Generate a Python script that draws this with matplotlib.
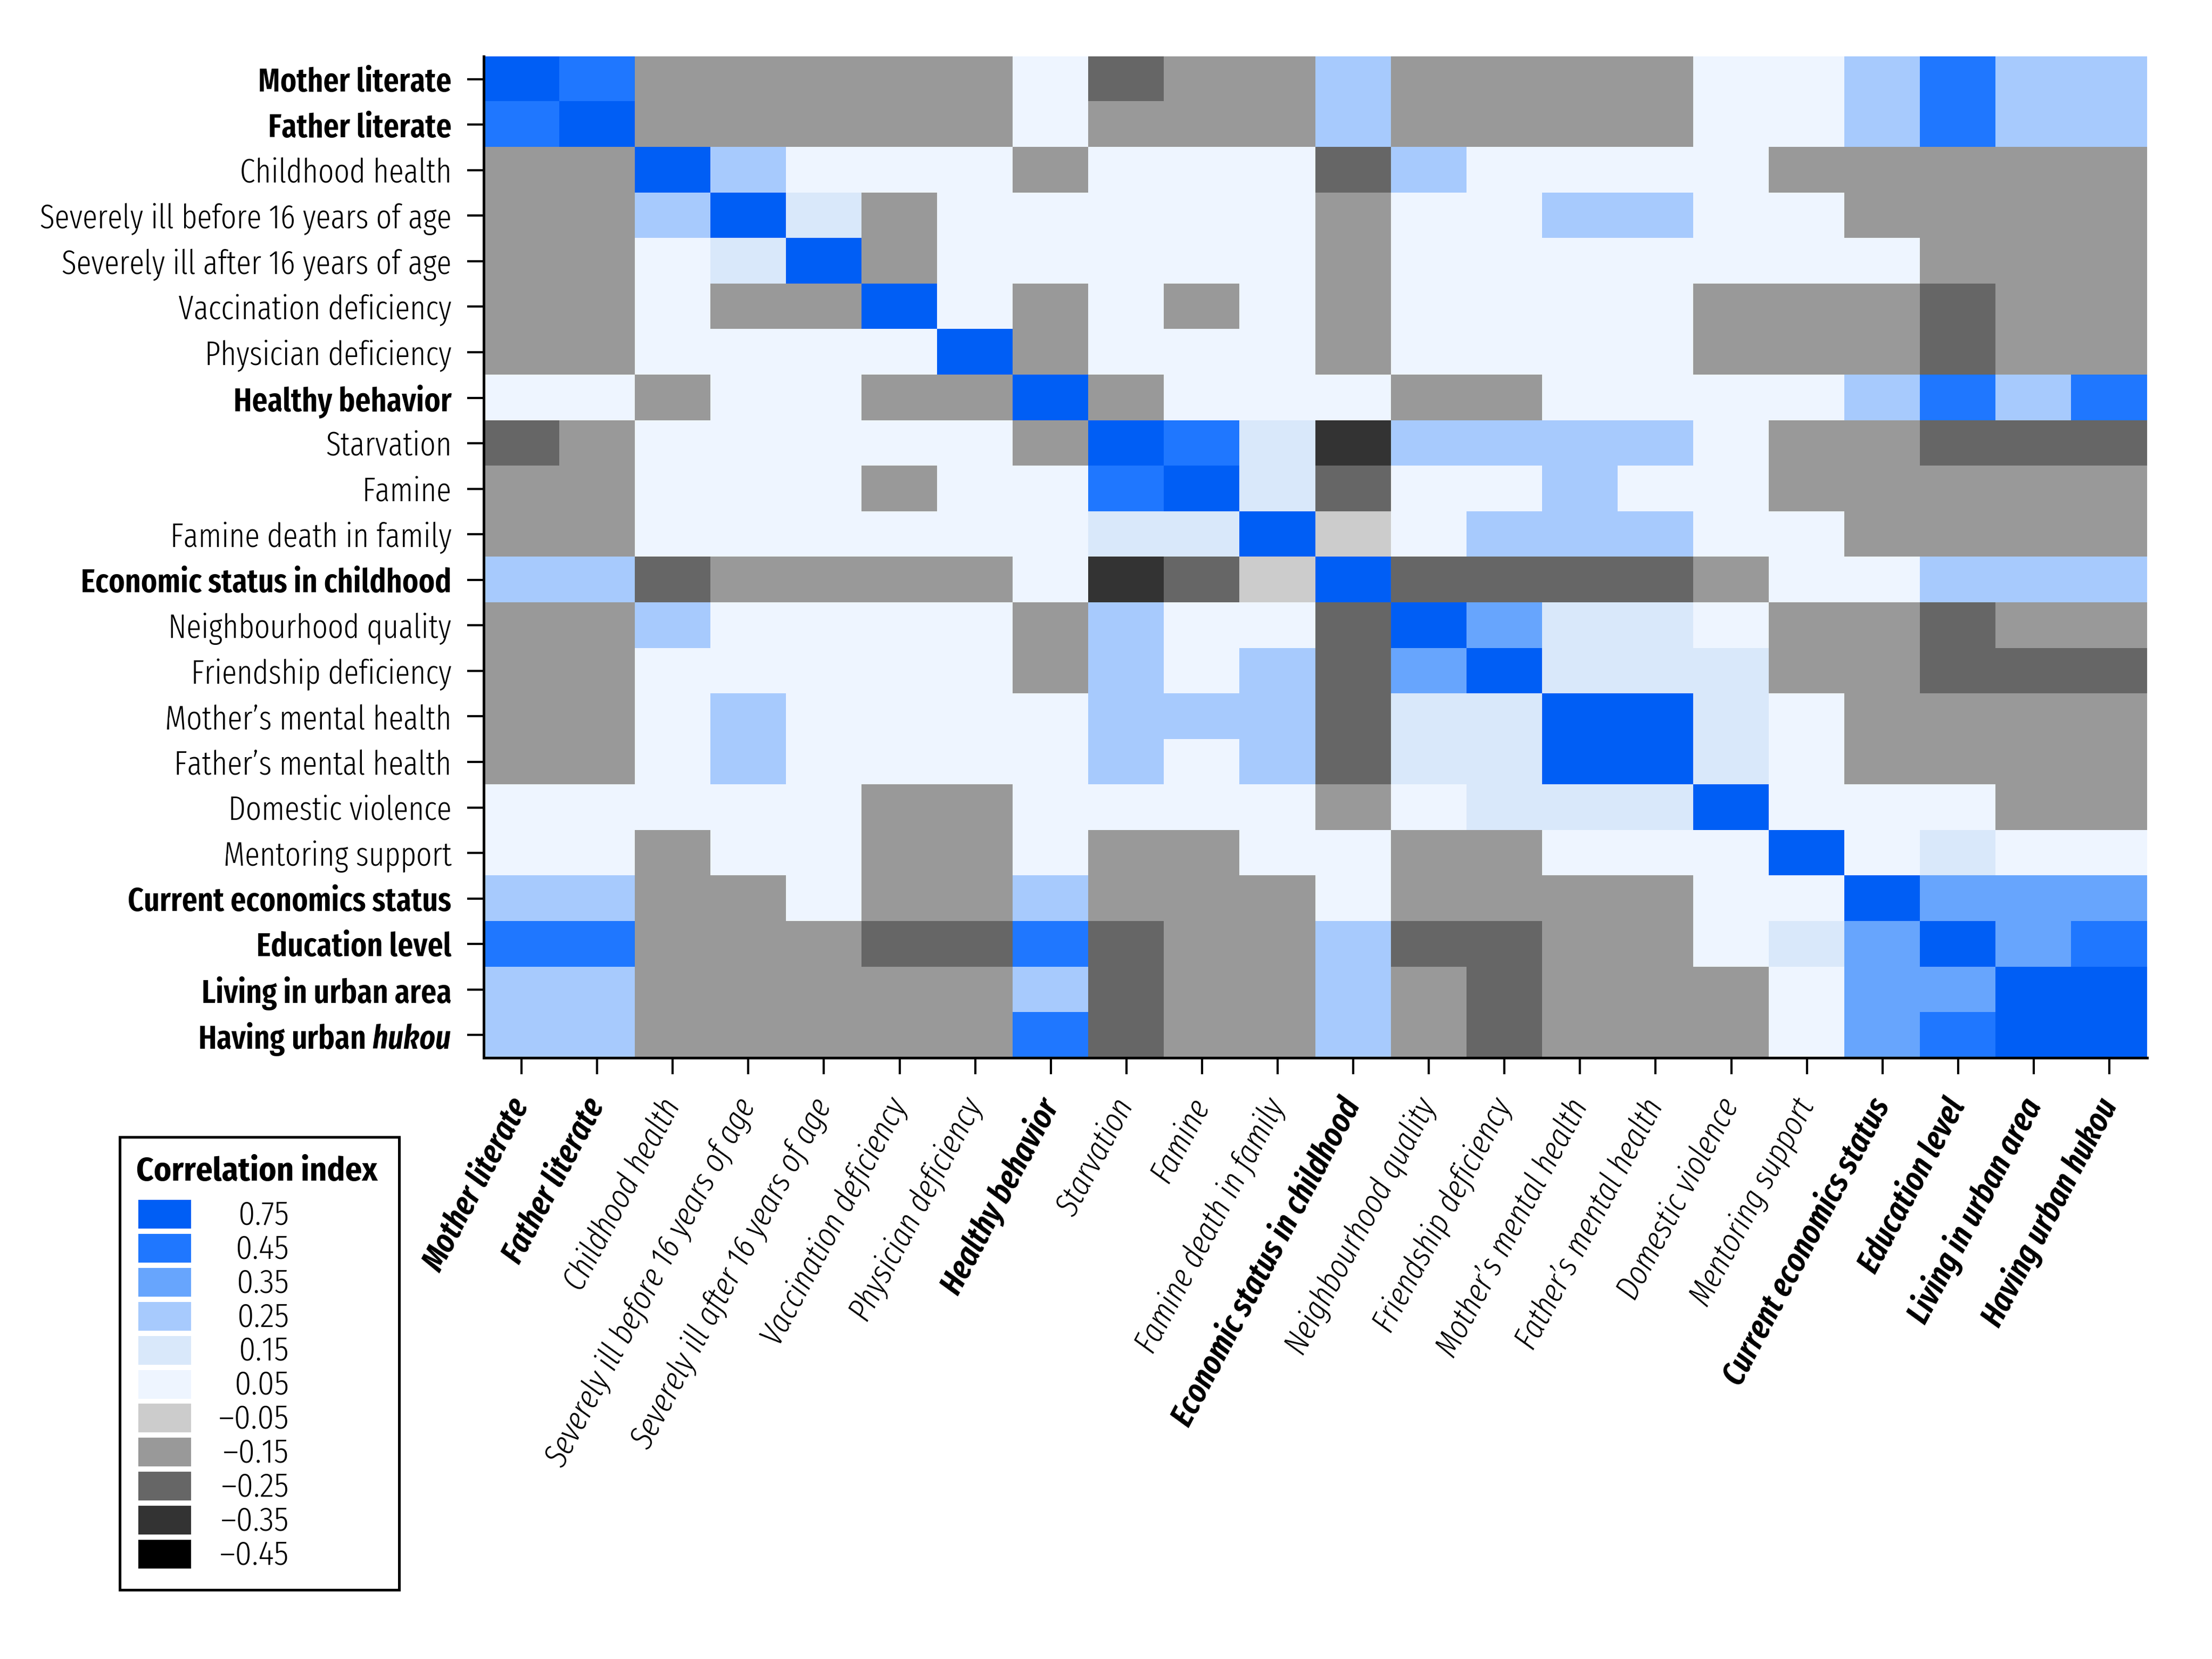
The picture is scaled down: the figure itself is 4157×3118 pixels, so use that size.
import numpy as np
import matplotlib
matplotlib.use('Agg')
import matplotlib.pyplot as plt
from matplotlib.colors import ListedColormap, BoundaryNorm

plt.rcParams['font.family'] = ['Fira Sans Extra Condensed', 'DejaVu Sans']
plt.rcParams['mathtext.fontset'] = 'custom'
plt.rcParams['mathtext.it'] = 'Fira Sans Extra Condensed:italic:semibold'

# variables (same order for rows and columns)
labels = ['Mother literate', 'Father literate', 'Childhood health',
          'Severely ill before 16 years of age', 'Severely ill after 16 years of age',
          'Vaccination deficiency', 'Physician deficiency', 'Healthy behavior',
          'Starvation', 'Famine', 'Famine death in family', 'Economic status in childhood',
          'Neighbourhood quality', 'Friendship deficiency', 'Mother\u2019s mental health',
          'Father\u2019s mental health', 'Domestic violence', 'Mentoring support',
          'Current economics status', 'Education level', 'Living in urban area',
          'Having urban hukou']
bold_labels = [0, 1, 7, 11, 18, 19, 20, 21]

# correlation class of each cell (legend value)
corr = [
    [0.75, 0.45, -0.15, -0.15, -0.15, -0.15, -0.15, 0.05, -0.25, -0.15, -0.15, 0.25, -0.15, -0.15, -0.15, -0.15, 0.05, 0.05, 0.25, 0.45, 0.25, 0.25],
    [0.45, 0.75, -0.15, -0.15, -0.15, -0.15, -0.15, 0.05, -0.15, -0.15, -0.15, 0.25, -0.15, -0.15, -0.15, -0.15, 0.05, 0.05, 0.25, 0.45, 0.25, 0.25],
    [-0.15, -0.15, 0.75, 0.25, 0.05, 0.05, 0.05, -0.15, 0.05, 0.05, 0.05, -0.25, 0.25, 0.05, 0.05, 0.05, 0.05, -0.15, -0.15, -0.15, -0.15, -0.15],
    [-0.15, -0.15, 0.25, 0.75, 0.15, -0.15, 0.05, 0.05, 0.05, 0.05, 0.05, -0.15, 0.05, 0.05, 0.25, 0.25, 0.05, 0.05, -0.15, -0.15, -0.15, -0.15],
    [-0.15, -0.15, 0.05, 0.15, 0.75, -0.15, 0.05, 0.05, 0.05, 0.05, 0.05, -0.15, 0.05, 0.05, 0.05, 0.05, 0.05, 0.05, 0.05, -0.15, -0.15, -0.15],
    [-0.15, -0.15, 0.05, -0.15, -0.15, 0.75, 0.05, -0.15, 0.05, -0.15, 0.05, -0.15, 0.05, 0.05, 0.05, 0.05, -0.15, -0.15, -0.15, -0.25, -0.15, -0.15],
    [-0.15, -0.15, 0.05, 0.05, 0.05, 0.05, 0.75, -0.15, 0.05, 0.05, 0.05, -0.15, 0.05, 0.05, 0.05, 0.05, -0.15, -0.15, -0.15, -0.25, -0.15, -0.15],
    [0.05, 0.05, -0.15, 0.05, 0.05, -0.15, -0.15, 0.75, -0.15, 0.05, 0.05, 0.05, -0.15, -0.15, 0.05, 0.05, 0.05, 0.05, 0.25, 0.45, 0.25, 0.45],
    [-0.25, -0.15, 0.05, 0.05, 0.05, 0.05, 0.05, -0.15, 0.75, 0.45, 0.15, -0.35, 0.25, 0.25, 0.25, 0.25, 0.05, -0.15, -0.15, -0.25, -0.25, -0.25],
    [-0.15, -0.15, 0.05, 0.05, 0.05, -0.15, 0.05, 0.05, 0.45, 0.75, 0.15, -0.25, 0.05, 0.05, 0.25, 0.05, 0.05, -0.15, -0.15, -0.15, -0.15, -0.15],
    [-0.15, -0.15, 0.05, 0.05, 0.05, 0.05, 0.05, 0.05, 0.15, 0.15, 0.75, -0.05, 0.05, 0.25, 0.25, 0.25, 0.05, 0.05, -0.15, -0.15, -0.15, -0.15],
    [0.25, 0.25, -0.25, -0.15, -0.15, -0.15, -0.15, 0.05, -0.35, -0.25, -0.05, 0.75, -0.25, -0.25, -0.25, -0.25, -0.15, 0.05, 0.05, 0.25, 0.25, 0.25],
    [-0.15, -0.15, 0.25, 0.05, 0.05, 0.05, 0.05, -0.15, 0.25, 0.05, 0.05, -0.25, 0.75, 0.35, 0.15, 0.15, 0.05, -0.15, -0.15, -0.25, -0.15, -0.15],
    [-0.15, -0.15, 0.05, 0.05, 0.05, 0.05, 0.05, -0.15, 0.25, 0.05, 0.25, -0.25, 0.35, 0.75, 0.15, 0.15, 0.15, -0.15, -0.15, -0.25, -0.25, -0.25],
    [-0.15, -0.15, 0.05, 0.25, 0.05, 0.05, 0.05, 0.05, 0.25, 0.25, 0.25, -0.25, 0.15, 0.15, 0.75, 0.75, 0.15, 0.05, -0.15, -0.15, -0.15, -0.15],
    [-0.15, -0.15, 0.05, 0.25, 0.05, 0.05, 0.05, 0.05, 0.25, 0.05, 0.25, -0.25, 0.15, 0.15, 0.75, 0.75, 0.15, 0.05, -0.15, -0.15, -0.15, -0.15],
    [0.05, 0.05, 0.05, 0.05, 0.05, -0.15, -0.15, 0.05, 0.05, 0.05, 0.05, -0.15, 0.05, 0.15, 0.15, 0.15, 0.75, 0.05, 0.05, 0.05, -0.15, -0.15],
    [0.05, 0.05, -0.15, 0.05, 0.05, -0.15, -0.15, 0.05, -0.15, -0.15, 0.05, 0.05, -0.15, -0.15, 0.05, 0.05, 0.05, 0.75, 0.05, 0.15, 0.05, 0.05],
    [0.25, 0.25, -0.15, -0.15, 0.05, -0.15, -0.15, 0.25, -0.15, -0.15, -0.15, 0.05, -0.15, -0.15, -0.15, -0.15, 0.05, 0.05, 0.75, 0.35, 0.35, 0.35],
    [0.45, 0.45, -0.15, -0.15, -0.15, -0.25, -0.25, 0.45, -0.25, -0.15, -0.15, 0.25, -0.25, -0.25, -0.15, -0.15, 0.05, 0.15, 0.35, 0.75, 0.35, 0.45],
    [0.25, 0.25, -0.15, -0.15, -0.15, -0.15, -0.15, 0.25, -0.25, -0.15, -0.15, 0.25, -0.15, -0.25, -0.15, -0.15, -0.15, 0.05, 0.35, 0.35, 0.75, 0.75],
    [0.25, 0.25, -0.15, -0.15, -0.15, -0.15, -0.15, 0.45, -0.25, -0.15, -0.15, 0.25, -0.15, -0.25, -0.15, -0.15, -0.15, 0.05, 0.35, 0.45, 0.75, 0.75],
]

# legend classes, top to bottom
levels = [0.75, 0.45, 0.35, 0.25, 0.15, 0.05, -0.05, -0.15, -0.25, -0.35, -0.45]
level_labels = ['0.75', '0.45', '0.35', '0.25', '0.15', '0.05',
                '\u20130.05', '\u20130.15', '\u20130.25', '\u20130.35', '\u20130.45']
level_colors = ['#005EF5', '#1F77FF', '#67A5FD', '#A7CAFD', '#D9E8FA', '#EEF5FF',
                '#CCCCCC', '#999999', '#666666', '#333333', '#000000']

cmap = ListedColormap(level_colors[::-1])
bounds = [-0.5, -0.4, -0.3, -0.2, -0.1, 0.0, 0.1, 0.2, 0.3, 0.4, 0.5, 1.0]
norm = BoundaryNorm(bounds, cmap.N)

fig = plt.figure(figsize=(4157 / 300, 3118 / 300), dpi=300)
ax = fig.add_axes([909 / 4157, 1 - 1988 / 3118, (4035 - 909) / 4157, (1988 - 106) / 3118])
ax.imshow(np.array(corr), cmap=cmap, norm=norm, aspect='auto', interpolation='nearest')

n = len(labels)
ylabels = list(labels)
ylabels[21] = 'Having urban $\\mathit{hukou}$'
ax.set_yticks(range(n))
ax.set_yticklabels(ylabels, fontsize=15, fontweight=300)
ax.set_xticks(range(n))
ax.set_xticklabels(labels, fontsize=15, fontweight=300, rotation=62, ha='right', va='center',
                   rotation_mode='anchor', style='italic')
for i in bold_labels:
    ax.get_yticklabels()[i].set_fontweight(600)
    ax.get_xticklabels()[i].set_fontweight(600)

ax.tick_params(axis='both', direction='out', length=7.5, width=1.0, color='black')
ax.tick_params(axis='y', pad=7)
ax.tick_params(axis='x', pad=12)
for s in ['top', 'right']:
    ax.spines[s].set_visible(False)
for s in ['left', 'bottom']:
    ax.spines[s].set_linewidth(1.2)

# legend panel
lax = fig.add_axes([225 / 4157, 1 - 2988 / 3118, 525 / 4157, 851 / 3118])
lax.set_xlim(0, 525)
lax.set_ylim(851, 0)
ycent = 145 + 63.9 * np.arange(len(levels))
lax.barh(ycent, 99, left=35, height=54, color=level_colors)
for yc, lab in zip(ycent, level_labels):
    lax.text(318, yc + 2, lab, ha='right', va='center', fontsize=15, fontweight=300,
             family=['Fira Sans Condensed', 'DejaVu Sans'])
lax.text(31, 66, 'Correlation index', ha='left', va='center', fontsize=15, fontweight='bold',
         family=['Fira Sans Condensed', 'DejaVu Sans'])
lax.set_xticks([])
lax.set_yticks([])
for s in lax.spines.values():
    s.set_linewidth(1.2)

fig.savefig('out.png', dpi=300)
